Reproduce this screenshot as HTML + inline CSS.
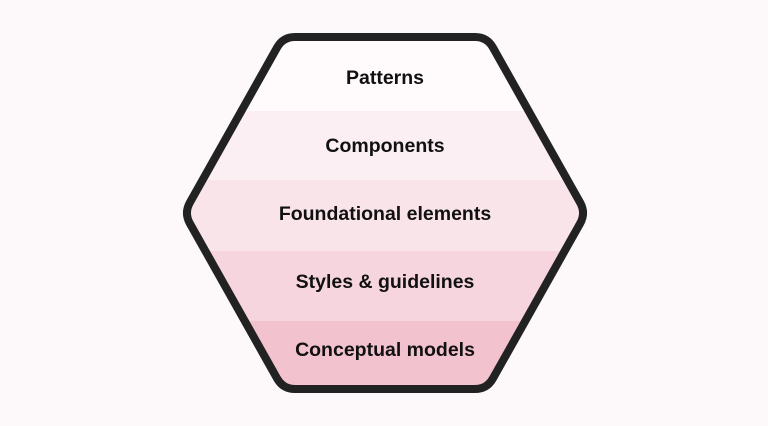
<!DOCTYPE html>
<html><head><style>
html,body{margin:0;padding:0;background:#fdf8f9;}
svg{display:block;}
text{font-family:"Liberation Sans",sans-serif;font-weight:bold;font-size:19.5px;fill:#111;}
</style></head><body>
<svg width="768" height="426" viewBox="0 0 768 426">
<defs><clipPath id="h"><path id="hp" d="M295,37 L475,37 Q487,37 492.9,47.5 L580.1,202.5 Q586,213 580.1,223.5 L492.9,378.5 Q487,389 475,389 L295,389 Q283,389 277.1,378.5 L189.9,223.5 Q184,213 189.9,202.5 L277.1,47.5 Q283,37 295,37 Z"/></clipPath></defs>
<g clip-path="url(#h)">
<rect x="150" y="30" width="470" height="81" fill="#fffbfc"/>
<rect x="150" y="111" width="470" height="69" fill="#fbeff3"/>
<rect x="150" y="180" width="470" height="71" fill="#f9e4ea"/>
<rect x="150" y="251" width="470" height="70" fill="#f6d5de"/>
<rect x="150" y="321" width="470" height="75" fill="#f2c2cf"/>
</g>
<path d="M295,37 L475,37 Q487,37 492.9,47.5 L580.1,202.5 Q586,213 580.1,223.5 L492.9,378.5 Q487,389 475,389 L295,389 Q283,389 277.1,378.5 L189.9,223.5 Q184,213 189.9,202.5 L277.1,47.5 Q283,37 295,37 Z" fill="none" stroke="#222" stroke-width="8" stroke-linejoin="round"/>
<text x="385" y="84" text-anchor="middle">Patterns</text>
<text x="385" y="152" text-anchor="middle">Components</text>
<text x="385" y="220" text-anchor="middle">Foundational elements</text>
<text x="385" y="288" text-anchor="middle">Styles &amp; guidelines</text>
<text x="385" y="356" text-anchor="middle">Conceptual models</text>
</svg>
</body></html>
